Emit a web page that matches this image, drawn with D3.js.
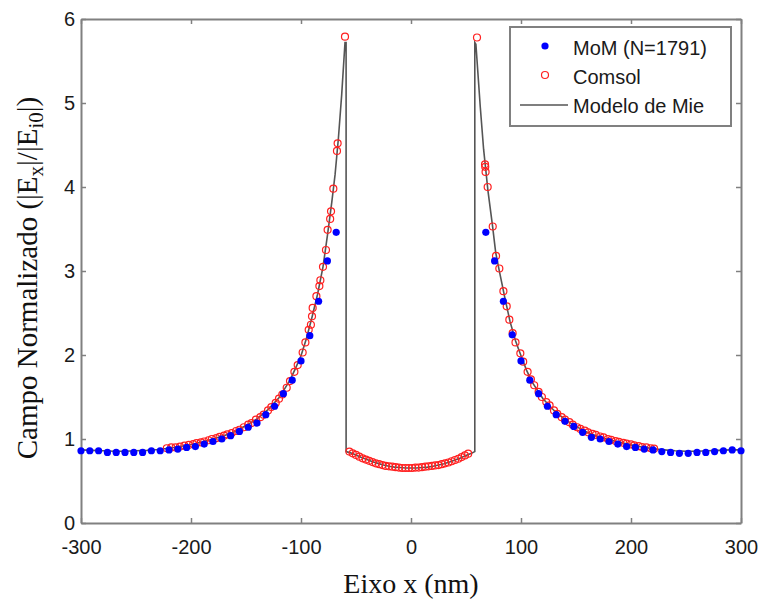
<!DOCTYPE html>
<html>
<head>
<meta charset="utf-8">
<script src="https://cdn.jsdelivr.net/npm/d3@7"></script>
<style>
  body { margin: 0; background: #fff; }
</style>
</head>
<body>
<div class="canvas"></div>
<script>
// DATA ------------------------------------------------------------------------
const xTicks = [-300, -200, -100, 0, 100, 200, 300];
const yTicks = [0, 1, 2, 3, 4, 5, 6];
const legendLabels = ['MoM (N=1791)', 'Comsol', 'Modelo de Mie'];

// MoM (N=1791) points, one every 8 nm outside the sphere
const momX = [-300, -292, -284, -276, -268, -260, -252, -244, -236, -228, -220, -212, -204, -196, -188,
  -180, -172, -164, -156, -148, -140, -132, -124, -116, -108, -100, -92, -84, -76, -68,
  68, 76, 84, 92, 100, 108, 116, 124, 132, 140, 148, 156, 164, 172, 180,
  188, 196, 204, 212, 220, 228, 236, 244, 252, 260, 268, 276, 284, 292, 300];
const momY = [0.86, 0.86, 0.86, 0.84, 0.84, 0.84, 0.84, 0.84, 0.86, 0.86, 0.87, 0.88, 0.90, 0.91, 0.94,
  0.97, 1.00, 1.04, 1.09, 1.14, 1.19, 1.29, 1.39, 1.54, 1.70, 1.93, 2.23, 2.64, 3.12, 3.46,
  3.46, 3.12, 2.64, 2.24, 1.93, 1.70, 1.54, 1.39, 1.29, 1.21, 1.15, 1.08, 1.02, 1.00, 0.97,
  0.94, 0.91, 0.90, 0.88, 0.87, 0.85, 0.84, 0.83, 0.83, 0.84, 0.84, 0.85, 0.86, 0.87, 0.86];

// Comsol mesh points [x (nm), |Ex|/|Ei0|]
const comsol = [
  [-222, 0.89], [-218, 0.90], [-214, 0.90], [-210, 0.91], [-206, 0.92], [-202, 0.93], [-198, 0.94],
  [-195, 0.95], [-191, 0.96], [-188, 0.97], [-184, 0.985], [-181, 1.00], [-177, 1.01], [-174, 1.025],
  [-170, 1.04], [-167, 1.055], [-163, 1.07], [-159, 1.095], [-156, 1.11], [-152, 1.14], [-148, 1.17],
  [-145, 1.19], [-141, 1.23], [-137, 1.26], [-134, 1.29], [-130, 1.34], [-127, 1.38], [-123, 1.43],
  [-120, 1.48], [-117, 1.53], [-113, 1.61], [-110, 1.69], [-106, 1.80], [-103, 1.88], [-98.5, 2.03],
  [-96, 2.15], [-93, 2.30], [-91, 2.36], [-90, 2.46], [-89.4, 2.56], [-86, 2.70], [-83.3, 2.82],
  [-82.4, 2.89], [-80, 3.05], [-77.3, 3.25], [-75.8, 3.49], [-73.5, 3.62], [-72.7, 3.71], [-70.6, 3.98],
  [-67.3, 4.43], [-66.7, 4.52], [-60, 5.79],
  [-56, 0.85], [-53, 0.83], [-50, 0.81], [-47, 0.79], [-44, 0.77], [-41, 0.755], [-38, 0.74],
  [-35, 0.725], [-32, 0.71], [-29, 0.70], [-26, 0.69], [-23, 0.68], [-20, 0.675], [-17, 0.67],
  [-14, 0.665], [-11, 0.66], [-8, 0.655], [-5, 0.655], [-2, 0.655], [1, 0.655], [4, 0.66], [7, 0.66],
  [10, 0.665], [13, 0.67], [16, 0.675], [19, 0.68], [22, 0.685], [25, 0.69], [28, 0.70], [31, 0.71],
  [34, 0.72], [37, 0.735], [40, 0.75], [43, 0.765], [46, 0.785], [49, 0.805], [52, 0.825],
  [60, 5.78], [67.3, 4.27], [67.5, 4.24], [67.8, 4.18], [69.7, 4.00], [74.3, 3.53], [77.3, 3.18],
  [80.3, 3.03], [84, 2.76], [87, 2.58], [89.4, 2.42], [92.4, 2.26], [95, 2.15], [99.4, 2.02],
  [102, 1.92], [106, 1.80], [109, 1.71], [112, 1.64], [116, 1.56], [119, 1.50], [123, 1.44],
  [126, 1.40], [130, 1.34], [133, 1.30], [137, 1.26], [140, 1.23], [144, 1.20], [147, 1.17],
  [151, 1.14], [154, 1.12], [158, 1.10], [161, 1.08], [165, 1.06], [168, 1.05], [172, 1.03],
  [175, 1.02], [179, 1.00], [182, 0.99], [186, 0.975], [189, 0.965], [193, 0.955], [196, 0.945],
  [200, 0.935], [203, 0.925], [207, 0.915], [210, 0.905], [214, 0.90], [218, 0.89], [221, 0.885]
];

// Modelo de Mie curve [x (nm), |Ex|/|Ei0|]
const mie = [
  [-300, 0.87], [-290, 0.865], [-280, 0.86], [-270, 0.855], [-260, 0.855], [-250, 0.86], [-240, 0.865],
  [-230, 0.875], [-220, 0.89], [-210, 0.91], [-200, 0.935], [-190, 0.965], [-180, 1.00], [-170, 1.04],
  [-160, 1.09], [-150, 1.16], [-140, 1.24], [-130, 1.35], [-120, 1.49], [-110, 1.70], [-105, 1.84],
  [-100, 1.99], [-95, 2.20], [-90, 2.45], [-85, 2.72], [-80, 3.05], [-76, 3.42], [-72, 3.82],
  [-69, 4.15], [-66, 4.58], [-63, 5.10], [-60, 5.72], [-59, 5.72], [-59, 0.85],
  [-55, 0.835], [-50, 0.81], [-45, 0.78], [-40, 0.755], [-35, 0.73], [-30, 0.71], [-25, 0.69],
  [-20, 0.675], [-15, 0.665], [-10, 0.66], [-5, 0.655], [0, 0.655], [5, 0.655], [10, 0.66],
  [15, 0.665], [20, 0.675], [25, 0.69], [30, 0.705], [35, 0.725], [40, 0.75], [45, 0.775],
  [50, 0.805], [55, 0.83], [58, 0.85], [58, 5.72], [59, 5.70], [63, 4.95], [66, 4.45], [68, 4.20],
  [70, 3.95], [74, 3.55], [77, 3.22], [80, 3.02], [85, 2.70], [90, 2.40], [95, 2.17], [100, 1.99],
  [105, 1.82], [110, 1.68], [120, 1.48], [130, 1.34], [140, 1.23], [150, 1.15], [160, 1.08],
  [170, 1.03], [180, 0.99], [190, 0.96], [200, 0.93], [210, 0.905], [220, 0.885], [230, 0.87],
  [240, 0.86], [250, 0.855], [260, 0.855], [270, 0.86], [280, 0.865], [290, 0.87], [300, 0.87]
];

// SET UP GRAPH ------------------------------------------------------------------
const width = 761, height = 606;
const margin = { top: 19, right: 20, bottom: 83, left: 81 };
const graphWidth = width - margin.left - margin.right;
const graphHeight = height - margin.top - margin.bottom;

const axisColor = '#808080';
const textColor = '#1a1a1a';
const sansFont = '"Liberation Sans", Arial, sans-serif';
const serifFont = '"Liberation Serif", "Times New Roman", serif';

const svg = d3.select('.canvas')
  .append('svg')
    .attr('width', width)
    .attr('height', height);

const graph = svg.append('g')
  .attr('transform', `translate(${margin.left}, ${margin.top})`);

const x = d3.scaleLinear().domain([-300, 300]).range([0, graphWidth]);
const y = d3.scaleLinear().domain([0, 6]).range([graphHeight, 0]);

// Axes (MATLAB style: box with inward ticks, plain hyphen minus)
const tickText = d => String(d);
const styleAxis = g => {
  g.select('.domain').attr('stroke', axisColor).attr('stroke-width', 2);
  g.selectAll('.tick line').attr('stroke', axisColor).attr('stroke-width', 1.5);
  g.selectAll('.tick text').attr('fill', textColor).style('font', `20px ${sansFont}`);
};

graph.append('g')
  .attr('transform', `translate(0, ${graphHeight})`)
  .call(d3.axisBottom(x).tickValues(xTicks).tickFormat(tickText).tickSizeInner(-5).tickSizeOuter(0).tickPadding(17))
  .call(styleAxis);
graph.append('g')
  .call(d3.axisTop(x).tickValues(xTicks).tickSizeInner(-5).tickSizeOuter(0).tickFormat(''))
  .call(styleAxis);
graph.append('g')
  .call(d3.axisLeft(y).tickValues(yTicks).tickFormat(tickText).tickSizeInner(-5).tickSizeOuter(0).tickPadding(6))
  .call(styleAxis);
graph.append('g')
  .attr('transform', `translate(${graphWidth}, 0)`)
  .call(d3.axisRight(y).tickValues(yTicks).tickSizeInner(-5).tickSizeOuter(0).tickFormat(''))
  .call(styleAxis);

// SERIES ------------------------------------------------------------------------
const line = d3.line().x(d => x(d[0])).y(d => y(d[1]));

graph.append('path')
  .datum(mie)
  .attr('d', line)
  .attr('fill', 'none')
  .attr('stroke', '#555')
  .attr('stroke-width', 1.6);

graph.selectAll('circle.comsol')
  .data(comsol)
  .enter().append('circle')
    .attr('class', 'comsol')
    .attr('cx', d => x(d[0]))
    .attr('cy', d => y(d[1]))
    .attr('r', 3.5)
    .attr('fill', 'none')
    .attr('stroke', '#ff2020')
    .attr('stroke-width', 1.2);

graph.selectAll('circle.mom')
  .data(momX)
  .enter().append('circle')
    .attr('class', 'mom')
    .attr('cx', d => x(d))
    .attr('cy', (d, i) => y(momY[i]))
    .attr('r', 3.6)
    .attr('fill', '#0000ff');

// LEGEND ------------------------------------------------------------------------
const legend = svg.append('g').attr('transform', 'translate(510, 27)');
legend.append('rect')
  .attr('width', 221).attr('height', 99)
  .attr('fill', '#fff')
  .attr('stroke', axisColor)
  .attr('stroke-width', 2);
legend.append('circle').attr('cx', 35).attr('cy', 19).attr('r', 3.6).attr('fill', '#0000ff');
legend.append('circle').attr('cx', 35).attr('cy', 48).attr('r', 3.5)
  .attr('fill', 'none').attr('stroke', '#ff2020').attr('stroke-width', 1.2);
legend.append('line').attr('x1', 10).attr('x2', 58).attr('y1', 78).attr('y2', 78)
  .attr('stroke', '#555').attr('stroke-width', 1.6);
legend.selectAll('text')
  .data(legendLabels)
  .enter().append('text')
    .attr('x', 63)
    .attr('y', (d, i) => 28 + i * 29)
    .attr('fill', textColor)
    .style('font', `20px ${sansFont}`)
    .text(d => d);

// AXIS TITLES -------------------------------------------------------------------
svg.append('text')
  .attr('text-anchor', 'middle')
  .attr('x', margin.left + graphWidth / 2)
  .attr('y', 593)
  .attr('fill', '#111')
  .style('font', `28px ${serifFont}`)
  .text('Eixo x (nm)');

const yTitle = svg.append('text')
  .attr('text-anchor', 'middle')
  .attr('transform', 'translate(37, 278) rotate(-90)')
  .attr('fill', '#111')
  .style('font', `29px ${serifFont}`);
yTitle.append('tspan').text('Campo Normalizado (|E');
yTitle.append('tspan').attr('dy', 6).style('font-size', '21px').text('x');
yTitle.append('tspan').attr('dy', -6).text('|/|E');
yTitle.append('tspan').attr('dy', 6).style('font-size', '21px').text('i0');
yTitle.append('tspan').attr('dy', -6).text('|)');
</script>
</body>
</html>
